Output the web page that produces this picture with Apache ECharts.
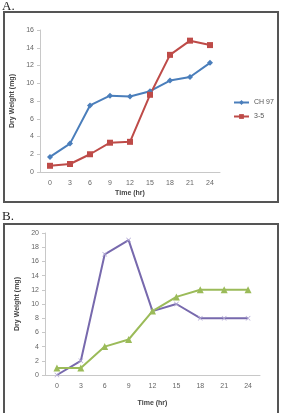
<!DOCTYPE html>
<html>
<head>
<meta charset="utf-8">
<script src="https://cdn.jsdelivr.net/npm/echarts@6/dist/echarts.min.js"></script>
<style>
  html, body { margin: 0; padding: 0; background: #fff; }
  #main { width: 281px; height: 413px; }
</style>
</head>
<body>
<div id="main"></div>
<script>
// time points (hr), same for both panels
var hours = ['0', '3', '6', '9', '12', '15', '18', '21', '24'];

// panel A
var ch97 = [1.7, 3.2, 7.5, 8.6, 8.5, 9.1, 10.3, 10.7, 12.3];
var strain35 = [0.7, 0.9, 2.0, 3.3, 3.4, 8.7, 13.2, 14.8, 14.3];

// panel B
var purpleB = [0, 2, 17, 19, 9, 10, 8, 8, 8];
var greenB = [1, 1, 4, 5, 9, 11, 12, 12, 12];

var axisGray = '#c8c8c8';
var labelGray = '#666';
var cross = 'path://M0,1L1,0L5,4L9,0L10,1L6,5L10,9L9,10L5,6L1,10L0,9L4,5Z';

function xAx(idx, gap) {
    return {
        type: 'category', gridIndex: idx, data: hours,
        name: 'Time (hr)', nameLocation: 'middle', nameGap: gap,
        nameTextStyle: { fontSize: 7, fontWeight: 'bold', color: '#444' },
        axisLine: { lineStyle: { color: axisGray } },
        axisTick: { show: false },
        axisLabel: { fontSize: 7, color: labelGray, margin: 8 }
    };
}
function yAx(idx, max, gap) {
    return {
        type: 'value', gridIndex: idx, min: 0, max: max, interval: 2,
        name: 'Dry Weight (mg)', nameLocation: 'middle', nameGap: gap,
        nameTextStyle: { fontSize: 7, fontWeight: 'bold', color: '#444' },
        axisLine: { show: true, lineStyle: { color: axisGray } },
        axisTick: { show: true, length: 3, lineStyle: { color: axisGray } },
        splitLine: { show: false },
        axisLabel: { fontSize: 7, color: labelGray, margin: 6 }
    };
}

var myChart = echarts.init(document.getElementById('main'));
var option = {
    animation: false,
    textStyle: { fontFamily: 'Liberation Sans, Arial, sans-serif' },
    graphic: [
        { type: 'text', left: 2, top: 0, style: { text: 'A.', font: '13px "Liberation Serif", serif', fill: '#222' } },
        { type: 'rect', shape: { x: 4, y: 12, width: 274, height: 190 }, style: { fill: 'none', stroke: '#555', lineWidth: 2 } },
        { type: 'text', left: 2, top: 210, style: { text: 'B.', font: '13px "Liberation Serif", serif', fill: '#222' } },
        { type: 'rect', shape: { x: 4, y: 224, width: 274, height: 200 }, style: { fill: 'none', stroke: '#555', lineWidth: 2 } }
    ],
    legend: {
        orient: 'vertical', left: 228, top: 94, itemGap: 7,
        itemWidth: 15, itemHeight: 6,
        textStyle: { fontSize: 7, color: '#555' },
        data: ['CH 97', '3-5']
    },
    grid: [
        { left: 40, right: 61, top: 30, bottom: 241 },
        { left: 45, right: 21, top: 233, bottom: 38 }
    ],
    xAxis: [xAx(0, 18), xAx(1, 25)],
    yAxis: [yAx(0, 16, 17), yAx(1, 20, 20)],
    series: [
        {
            name: 'CH 97', type: 'line', xAxisIndex: 0, yAxisIndex: 0, data: ch97,
            symbol: 'diamond', symbolSize: 6,
            lineStyle: { color: '#4a7ebb', width: 2 }, itemStyle: { color: '#4a7ebb' }
        },
        {
            name: '3-5', type: 'line', xAxisIndex: 0, yAxisIndex: 0, data: strain35,
            symbol: 'rect', symbolSize: 6,
            lineStyle: { color: '#be4b48', width: 2 }, itemStyle: { color: '#be4b48' }
        },
        {
            name: 'B1', type: 'line', xAxisIndex: 1, yAxisIndex: 1, data: purpleB,
            symbol: cross, symbolSize: 5,
            lineStyle: { color: '#7769ad', width: 2 }, itemStyle: { color: '#b5acd6' }
        },
        {
            name: 'B2', type: 'line', xAxisIndex: 1, yAxisIndex: 1, data: greenB,
            symbol: 'triangle', symbolSize: 7,
            lineStyle: { color: '#9bbb59', width: 2 }, itemStyle: { color: '#9bbb59' }
        }
    ]
};
myChart.setOption(option);
</script>
</body>
</html>
